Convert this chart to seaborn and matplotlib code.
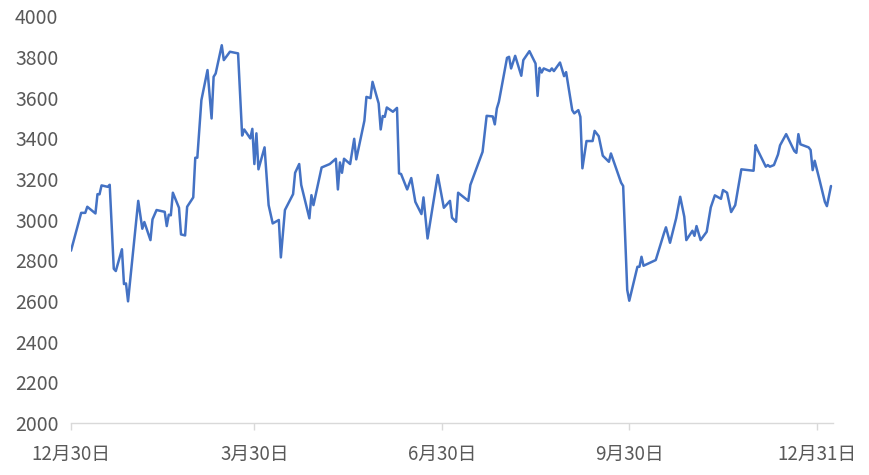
import pandas as pd
import matplotlib
matplotlib.use("Agg")
import matplotlib.pyplot as plt
import seaborn as sns

# daily values (vertices of the line)
dates = [
    "2018-12-30", "2019-01-04", "2019-01-06", "2019-01-07", "2019-01-11", "2019-01-12",
    "2019-01-13", "2019-01-14", "2019-01-17", "2019-01-18", "2019-01-20", "2019-01-21",
    "2019-01-24", "2019-01-25", "2019-01-26", "2019-01-27", "2019-02-01", "2019-02-03",
    "2019-02-04", "2019-02-07", "2019-02-08", "2019-02-10", "2019-02-14", "2019-02-15",
    "2019-02-16", "2019-02-17", "2019-02-18", "2019-02-21", "2019-02-22", "2019-02-24",
    "2019-02-25", "2019-02-28", "2019-03-01", "2019-03-02", "2019-03-04", "2019-03-07",
    "2019-03-09", "2019-03-10", "2019-03-11", "2019-03-14", "2019-03-15", "2019-03-18",
    "2019-03-22", "2019-03-24", "2019-03-25", "2019-03-28", "2019-03-29", "2019-03-30",
    "2019-03-31", "2019-04-01", "2019-04-04", "2019-04-06", "2019-04-08", "2019-04-11",
    "2019-04-12", "2019-04-14", "2019-04-18", "2019-04-19", "2019-04-21", "2019-04-22",
    "2019-04-26", "2019-04-27", "2019-04-28", "2019-05-02", "2019-05-06", "2019-05-09",
    "2019-05-10", "2019-05-11", "2019-05-12", "2019-05-13", "2019-05-16", "2019-05-18",
    "2019-05-19", "2019-05-23", "2019-05-24", "2019-05-26", "2019-05-27", "2019-05-30",
    "2019-05-31", "2019-06-01", "2019-06-02", "2019-06-03", "2019-06-06", "2019-06-08",
    "2019-06-09", "2019-06-10", "2019-06-13", "2019-06-15", "2019-06-17", "2019-06-20",
    "2019-06-21", "2019-06-23", "2019-06-28", "2019-07-01", "2019-07-04", "2019-07-05",
    "2019-07-07", "2019-07-08", "2019-07-13", "2019-07-14", "2019-07-20", "2019-07-22",
    "2019-07-25", "2019-07-26", "2019-07-27", "2019-07-28", "2019-08-01", "2019-08-02",
    "2019-08-03", "2019-08-05", "2019-08-08", "2019-08-09", "2019-08-12", "2019-08-15",
    "2019-08-16", "2019-08-17", "2019-08-18", "2019-08-19", "2019-08-22", "2019-08-23",
    "2019-08-24", "2019-08-27", "2019-08-29", "2019-08-30", "2019-09-02", "2019-09-03",
    "2019-09-05", "2019-09-06", "2019-09-07", "2019-09-09", "2019-09-12", "2019-09-13",
    "2019-09-15", "2019-09-17", "2019-09-20", "2019-09-21", "2019-09-26", "2019-09-27",
    "2019-09-29", "2019-09-30", "2019-10-04", "2019-10-05", "2019-10-06", "2019-10-07",
    "2019-10-13", "2019-10-17", "2019-10-18", "2019-10-20", "2019-10-23", "2019-10-25",
    "2019-10-27", "2019-10-28", "2019-10-31", "2019-11-01", "2019-11-02", "2019-11-04",
    "2019-11-07", "2019-11-09", "2019-11-11", "2019-11-14", "2019-11-15", "2019-11-17",
    "2019-11-19", "2019-11-21", "2019-11-24", "2019-11-30", "2019-12-01", "2019-12-02",
    "2019-12-06", "2019-12-07", "2019-12-08", "2019-12-10", "2019-12-12", "2019-12-13",
    "2019-12-16", "2019-12-20", "2019-12-21", "2019-12-22", "2019-12-23", "2019-12-27",
    "2019-12-28", "2019-12-29", "2019-12-30", "2020-01-01", "2020-01-04", "2020-01-05",
    "2020-01-07",
]
values = [
    2847, 3033, 3033, 3063, 3030, 3125,
    3124, 3168, 3161, 3171, 2758, 2747,
    2854, 2683, 2686, 2598, 3092, 2955,
    2988, 2899, 3001, 3047, 3038, 2968,
    3024, 3021, 3132, 3058, 2927, 2922,
    3063, 3109, 3304, 3304, 3587, 3735,
    3497, 3702, 3718, 3857, 3784, 3825,
    3817, 3413, 3443, 3399, 3446, 3273,
    3424, 3247, 3355, 3071, 2981, 2998,
    2814, 3047, 3125, 3230, 3273, 3170,
    3006, 3120, 3071, 3256, 3273, 3299,
    3148, 3281, 3230, 3299, 3273, 3397,
    3296, 3486, 3603, 3597, 3677, 3571,
    3443, 3509, 3505, 3551, 3530, 3549,
    3227, 3224, 3148, 3204, 3087, 3027,
    3109, 2907, 3219, 3058, 3092, 3009,
    2989, 3132, 3092, 3170, 3333, 3510,
    3507, 3468, 3546, 3579, 3795, 3800,
    3743, 3805, 3707, 3784, 3828, 3767,
    3608, 3746, 3723, 3743, 3730, 3743,
    3730, 3772, 3705, 3725, 3538, 3522,
    3538, 3505, 3252, 3386, 3386, 3436,
    3410, 3314, 3284, 3325, 3181, 3165,
    2654, 2601, 2768, 2768, 2817, 2773,
    2801, 2932, 2962, 2886, 3006, 3112,
    3014, 2899, 2945, 2920, 2968, 2899,
    2940, 3060, 3119, 3102, 3145, 3132,
    3037, 3071, 3247, 3240, 3366, 3342,
    3260, 3268, 3260, 3268, 3320, 3365,
    3420, 3337, 3328, 3420, 3370, 3355,
    3342, 3243, 3289, 3210, 3087, 3066,
    3165,
]

tick_dates = ["2018-12-30", "2019-03-30", "2019-06-30", "2019-09-30", "2019-12-31"]
tick_labels = ["12月30日", "3月30日", "6月30日", "9月30日", "12月31日"]
y_ticks = [2000, 2200, 2400, 2600, 2800, 3000, 3200, 3400, 3600, 3800, 4000]

df = pd.DataFrame({"date": pd.to_datetime(dates), "value": values})

sns.set_theme(style="white")
plt.rcParams["font.family"] = ["Noto Sans CJK SC", "DejaVu Sans"]

fig, ax = plt.subplots(figsize=(8.7, 4.75), dpi=100)
fig.subplots_adjust(left=0.0816, right=0.9575, bottom=0.1095, top=0.966)

sns.lineplot(data=df, x="date", y="value", color="#4472C4", linewidth=1.8, ax=ax)

ax.set_ylim(2000, 4000)
ax.set_yticks(y_ticks)
ax.set_xlim(pd.Timestamp("2018-12-30"), pd.Timestamp("2020-01-08"))
ax.set_xticks(pd.to_datetime(tick_dates))
ax.set_xticklabels(tick_labels)
ax.set_xlabel("")
ax.set_ylabel("")

for side in ["left", "right", "top"]:
    ax.spines[side].set_visible(False)
ax.spines["bottom"].set_color("#D9D9D9")
ax.spines["bottom"].set_linewidth(1)

ax.tick_params(axis="x", length=5, width=1, color="#D9D9D9", pad=10,
               labelsize=13.5, labelcolor="#595959", bottom=True)
ax.tick_params(axis="y", length=0, pad=9, labelsize=14, labelcolor="#595959")

fig.savefig("out.png", dpi=100)
